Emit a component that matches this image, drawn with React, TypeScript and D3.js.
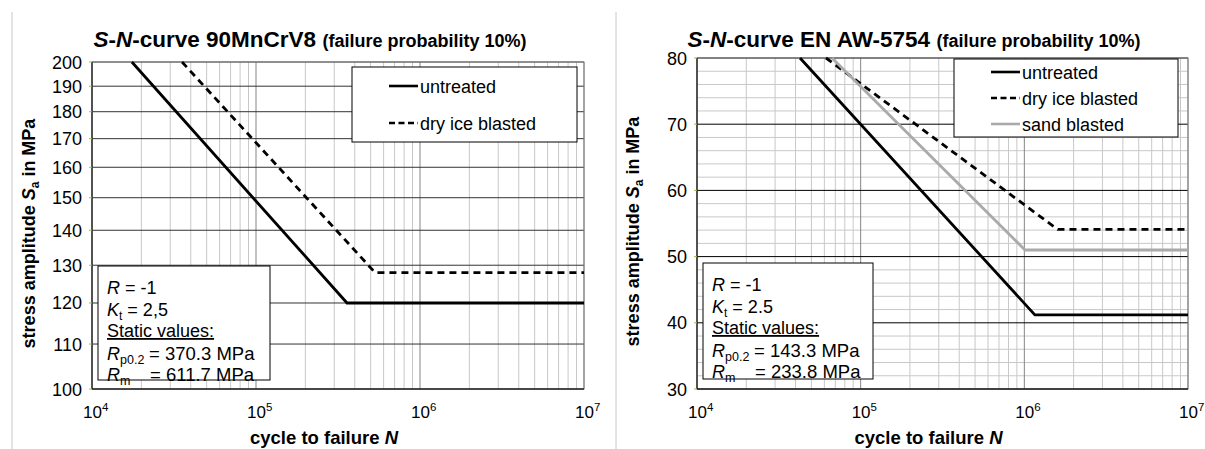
import React from 'react';
import * as d3 from 'd3';

// x axis: cycles to failure (log), shared by both panels
const xDecades = [1e4, 1e5, 1e6, 1e7];
const xExponents = ['4', '5', '6', '7'];

// left panel: 90MnCrV8
const leftTitle = '90MnCrV8';
const leftYTicks = [100, 110, 120, 130, 140, 150, 160, 170, 180, 190, 200];
const leftUntreatedN = [17500, 359000, 1e7];
const leftUntreatedS = [200, 120, 120];
const leftDryIceN = [35400, 532000, 1e7];
const leftDryIceS = [200, 128, 128];
const leftKt = '2,5';
const leftRp = '370.3 MPa';
const leftRm = '611.7 MPa';

// right panel: EN AW-5754
const rightTitle = 'EN AW-5754';
const rightYTicks = [30, 40, 50, 60, 70, 80];
const rightYMinor = [32, 34, 36, 38, 42, 44, 46, 48, 52, 54, 56, 58, 62, 64, 66, 68, 72, 74, 76, 78];
const rightUntreatedN = [42600, 1160000, 1e7];
const rightUntreatedS = [80, 41.2, 41.2];
const rightDryIceN = [61400, 1600000, 1e7];
const rightDryIceS = [80, 54.1, 54.1];
const rightSandN = [66800, 1010000, 1e7];
const rightSandS = [80, 51, 51];
const rightKt = '2.5';
const rightRp = '143.3 MPa';
const rightRm = '233.8 MPa';

const FONT = '"Liberation Sans", Arial, sans-serif';

type Series = { name: string; n: number[]; s: number[]; color: string; dash?: string };

type PanelProps = {
  frameX: number;
  titleX: number;
  title: string;
  left: number;
  right: number;
  top: number;
  bottom: number;
  yScale: any;
  yTicks: number[];
  yMinor: number[];
  yMajorColor: string;
  series: Series[];
  legend: { x: number; y: number; w: number; h: number; rows: number[] };
  info: { x: number; y: number; w: number; h: number; kt: string; rp: string; rm: string };
};

function Panel(p: PanelProps) {
  const x = d3.scaleLog().domain([1e4, 1e7]).range([p.left, p.right]);
  const minorX: number[] = [];
  [1e4, 1e5, 1e6].forEach((d) => {
    for (let k = 2; k <= 9; k++) minorX.push(d * k);
  });
  const line = d3
    .line<[number, number]>()
    .x((d) => x(d[0]))
    .y((d) => p.yScale(d[1]));
  const tx = p.info.x + 9;
  const rows = [21.5, 44, 65, 87.5, 109];

  return (
    <g fontFamily={FONT}>
      <line x1={p.frameX} x2={p.frameX} y1={12} y2={449} stroke="#c8c8c8" />
      <text x={p.titleX} y={47} textAnchor="middle" fontWeight="bold" fill="#000">
        <tspan fontSize={22.5} fontStyle="italic">S</tspan>
        <tspan fontSize={22.5}>-</tspan>
        <tspan fontSize={22.5} fontStyle="italic">N</tspan>
        <tspan fontSize={22.5}>{`-curve ${p.title} `}</tspan>
        <tspan fontSize={18}>(failure probability 10%)</tspan>
      </text>

      {/* grid */}
      {p.yMinor.map((v) => (
        <line key={'ym' + v} x1={p.left} x2={p.right} y1={p.yScale(v)} y2={p.yScale(v)} stroke="#c8c8c8" />
      ))}
      {minorX.map((v) => (
        <line key={'xm' + v} x1={x(v)} x2={x(v)} y1={p.top} y2={p.bottom} stroke="#c8c8c8" />
      ))}
      {xDecades.map((v) => (
        <line key={'xM' + v} x1={x(v)} x2={x(v)} y1={p.top} y2={p.bottom} stroke="#858585" />
      ))}
      {p.yTicks.map((v) => (
        <line key={'yM' + v} x1={p.left} x2={p.right} y1={p.yScale(v)} y2={p.yScale(v)} stroke={p.yMajorColor} />
      ))}
      <rect x={p.left} y={p.top} width={p.right - p.left} height={p.bottom - p.top} fill="none" stroke="#858585" />
      <line x1={p.left} x2={p.left} y1={p.top} y2={p.bottom} stroke="#000" />
      <line x1={p.left} x2={p.right} y1={p.bottom} y2={p.bottom} stroke="#000" />

      {/* y ticks */}
      {p.yTicks.map((v) => (
        <g key={'yt' + v}>
          <line x1={p.left - 3} x2={p.left} y1={p.yScale(v)} y2={p.yScale(v)} stroke="#9bbb59" />
          <text x={p.left - 10} y={p.yScale(v) + 6.5} textAnchor="end" fontSize={18} fill="#000">
            {v}
          </text>
        </g>
      ))}
      {/* x ticks */}
      {xDecades.map((v, i) => (
        <text key={'xt' + v} x={x(v) - 9} y={418} fontSize={17} fill="#000">
          <tspan>10</tspan>
          <tspan fontSize={11.5} dy={-7}>{xExponents[i]}</tspan>
        </text>
      ))}

      <text x={(p.left + p.right) / 2 - 14} y={444} textAnchor="middle" fontSize={18.5} fontWeight="bold">
        cycle to failure <tspan fontStyle="italic">N</tspan>
      </text>
      <text
        transform={`translate(${p.frameX + 23},${(p.top + p.bottom) / 2 + 8}) rotate(-90)`}
        textAnchor="middle"
        fontSize={18}
        fontWeight="bold"
      >
        stress amplitude <tspan fontStyle="italic">S</tspan>
        <tspan fontSize={12} dy={4}>a</tspan>
        <tspan dy={-4}> in MPa</tspan>
      </text>

      {/* curves */}
      {p.series.map((s) => (
        <path
          key={s.name}
          d={line(s.n.map((n, i) => [n, s.s[i]] as [number, number])) || ''}
          fill="none"
          stroke={s.color}
          strokeWidth={2.8}
          strokeDasharray={s.dash}
        />
      ))}

      {/* legend */}
      <rect x={p.legend.x} y={p.legend.y} width={p.legend.w} height={p.legend.h} fill="#fff" stroke="#000" />
      {p.series.map((s, i) => (
        <g key={'lg' + s.name}>
          <line
            x1={p.legend.x + 37}
            x2={p.legend.x + 66}
            y1={p.legend.rows[i]}
            y2={p.legend.rows[i]}
            stroke={s.color}
            strokeWidth={2.6}
            strokeDasharray={s.dash ? '6,3.5' : undefined}
          />
          <text x={p.legend.x + 68} y={p.legend.rows[i] + 6.5} fontSize={18}>
            {s.name}
          </text>
        </g>
      ))}

      {/* material box */}
      <rect x={p.info.x} y={p.info.y} width={p.info.w} height={p.info.h} fill="#fff" stroke="#000" />
      <text x={tx} y={p.info.y + rows[0] + 6} fontSize={18}>
        <tspan fontStyle="italic">R</tspan> = -1
      </text>
      <text x={tx} y={p.info.y + rows[1] + 6} fontSize={18}>
        <tspan fontStyle="italic">K</tspan>
        <tspan fontSize={12} dy={4}>t</tspan>
        <tspan dy={-4}>{` = ${p.info.kt}`}</tspan>
      </text>
      <text x={tx} y={p.info.y + rows[2] + 6} fontSize={18} textDecoration="underline">
        Static values:
      </text>
      <text x={tx} y={p.info.y + rows[3] + 6} fontSize={18}>
        <tspan fontStyle="italic">R</tspan>
        <tspan fontSize={12.5} dy={4}>p0.2</tspan>
      </text>
      <text x={tx + 42} y={p.info.y + rows[3] + 6} fontSize={18.5}>
        {`= ${p.info.rp}`}
      </text>
      <text x={tx} y={p.info.y + rows[4] + 6} fontSize={18}>
        <tspan fontStyle="italic">R</tspan>
        <tspan fontSize={12.5} dy={4}>m</tspan>
      </text>
      <text x={tx + 43} y={p.info.y + rows[4] + 6} fontSize={18.5}>
        {`= ${p.info.rm}`}
      </text>
    </g>
  );
}

export default function App() {
  const bottom = 389;
  const leftY = d3.scaleLog().domain([100, 200]).range([bottom, 62]);
  const rightY = d3.scaleLinear().domain([30, 80]).range([bottom, 58]);

  return (
    <svg width={1205} height={449} style={{ position: 'absolute', left: 0, top: 0, background: '#fff' }}>
      <rect width={1205} height={449} fill="#fff" />
      <Panel
        frameX={12}
        titleX={310}
        title={leftTitle}
        left={92}
        right={584}
        top={62}
        bottom={bottom}
        yScale={leftY}
        yTicks={leftYTicks}
        yMinor={[]}
        yMajorColor="#333"
        series={[
          { name: 'untreated', n: leftUntreatedN, s: leftUntreatedS, color: '#000' },
          { name: 'dry ice blasted', n: leftDryIceN, s: leftDryIceS, color: '#000', dash: '7,5' },
        ]}
        legend={{ x: 352, y: 67, w: 225, h: 75, rows: [86, 123] }}
        info={{ x: 98, y: 266, w: 172, h: 114, kt: leftKt, rp: leftRp, rm: leftRm }}
      />
      <Panel
        frameX={616}
        titleX={914}
        title={rightTitle}
        left={697}
        right={1188}
        top={58}
        bottom={bottom}
        yScale={rightY}
        yTicks={rightYTicks}
        yMinor={rightYMinor}
        yMajorColor="#000"
        series={[
          { name: 'untreated', n: rightUntreatedN, s: rightUntreatedS, color: '#000' },
          { name: 'dry ice blasted', n: rightDryIceN, s: rightDryIceS, color: '#000', dash: '7,5' },
          { name: 'sand blasted', n: rightSandN, s: rightSandS, color: '#aaa' },
        ]}
        legend={{ x: 954, y: 59, w: 224, h: 78, rows: [72, 98, 124] }}
        info={{ x: 703, y: 263, w: 170, h: 116, kt: rightKt, rp: rightRp, rm: rightRm }}
      />
    </svg>
  );
}
